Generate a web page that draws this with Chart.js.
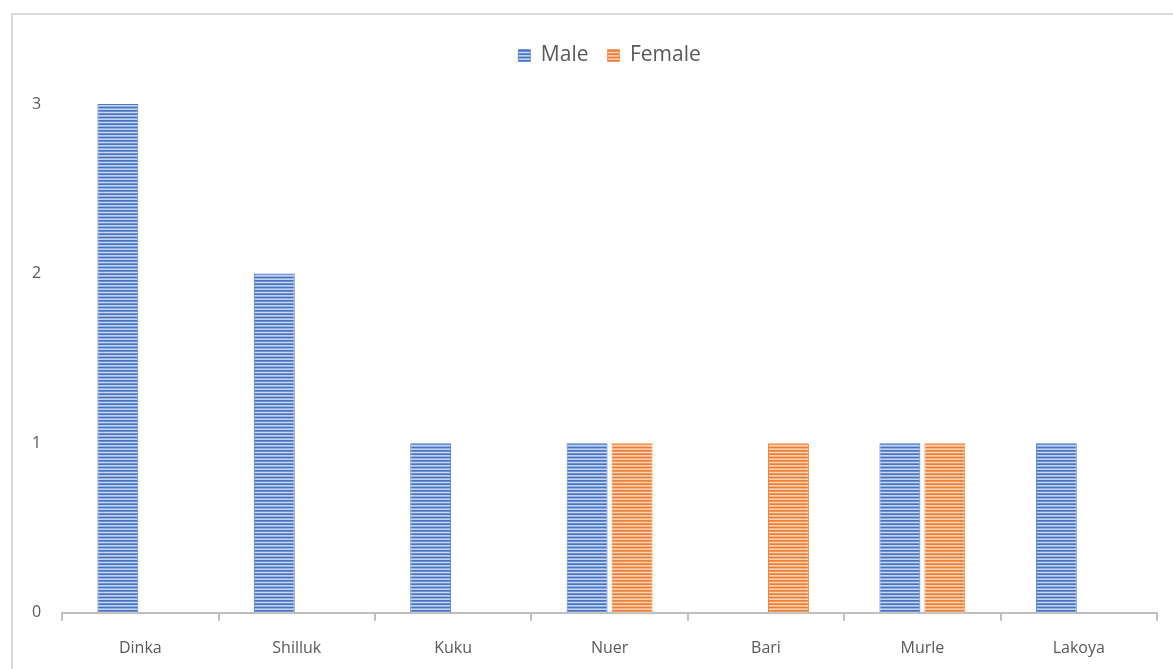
<!DOCTYPE html>
<html>
<head>
<meta charset="utf-8">
<script src="https://cdn.jsdelivr.net/npm/chart.js@4/dist/chart.umd.min.js"></script>
<style>
  html, body { margin: 0; padding: 0; background: #ffffff; overflow: hidden; }
  #frame { position: absolute; left: 11px; top: 13px; width: 1300px; height: 800px;
           border: 2px solid #d9d9d9; box-sizing: border-box; }
  #wrap { position: absolute; left: 0; top: 0; width: 1173px; height: 669px; }
</style>
</head>
<body>
<div id="frame"></div>
<div id="wrap"><canvas id="chart" width="1173" height="669"></canvas></div>
<script>
// Respondents by ethnic group and sex
const groups = ['Dinka', 'Shilluk', 'Kuku', 'Nuer', 'Bari', 'Murle', 'Lakoya'];
const maleCounts = [3, 2, 1, 1, 0, 1, 1];
const femaleCounts = [0, 0, 0, 1, 1, 1, 0];
const yMax = 3;

// Horizontal stripe fill, like a "narrow horizontal" pattern fill
function stripes(dark, light) {
  const c = document.createElement('canvas');
  c.width = 8; c.height = 10;
  const g = c.getContext('2d');
  g.fillStyle = dark;
  g.fillRect(0, 0, 8, 10);
  g.fillStyle = light;
  for (let i = 0; i < 3; i++) {
    g.fillRect(0, i * 10 / 3 + 1.7, 8, 1.6);
  }
  return g.createPattern(c, 'repeat');
}

const ctx = document.getElementById('chart').getContext('2d');
const malePattern = stripes('#4472c4', '#c9d7f0');
const femalePattern = stripes('#ed7d31', '#f9d3b8');

new Chart(ctx, {
  type: 'bar',
  data: {
    labels: groups,
    datasets: [
      { label: 'Male', data: maleCounts, backgroundColor: malePattern,
        borderColor: '#4f7acb', borderWidth: { left: 1, right: 1, top: 1, bottom: 0 },
        barPercentage: 0.91, categoryPercentage: 0.575 },
      { label: 'Female', data: femaleCounts, backgroundColor: femalePattern,
        borderColor: '#ef8744', borderWidth: { left: 1, right: 1, top: 1, bottom: 0 },
        barPercentage: 0.91, categoryPercentage: 0.575 }
    ]
  },
  options: {
    responsive: false,
    animation: false,
    events: [],
    layout: { padding: { left: 11, right: 16, top: 26, bottom: -7 } },
    plugins: {
      tooltip: { enabled: false },
      legend: {
        position: 'top',
        fullSize: false,
        labels: {
          boxWidth: 12, boxHeight: 12, padding: 19,
          color: '#595959',
          font: { family: 'Open Sans', size: 21 }
        }
      },
      // blank band between the legend and the plot area
      title: {
        display: true, text: ' ', weight: 500,
        font: { size: 10 }, color: 'rgba(0,0,0,0)',
        padding: { top: 0, bottom: 16 }
      }
    },
    scales: {
      x: {
        grid: { display: true, drawOnChartArea: false, drawTicks: true, tickLength: 8,
                color: '#bfbfbf', lineWidth: 2, offset: true },
        border: { display: true, color: '#bfbfbf', width: 2 },
        ticks: { color: '#595959', font: { family: 'Open Sans', size: 16 }, padding: 18,
                 maxRotation: 0 }
      },
      y: {
        min: 0, max: yMax,
        grid: { display: false, drawTicks: false },
        border: { display: false },
        ticks: { stepSize: 1, color: '#595959', font: { family: 'Open Sans', size: 16 }, padding: 21 }
      }
    }
  }
});
</script>
</body>
</html>
